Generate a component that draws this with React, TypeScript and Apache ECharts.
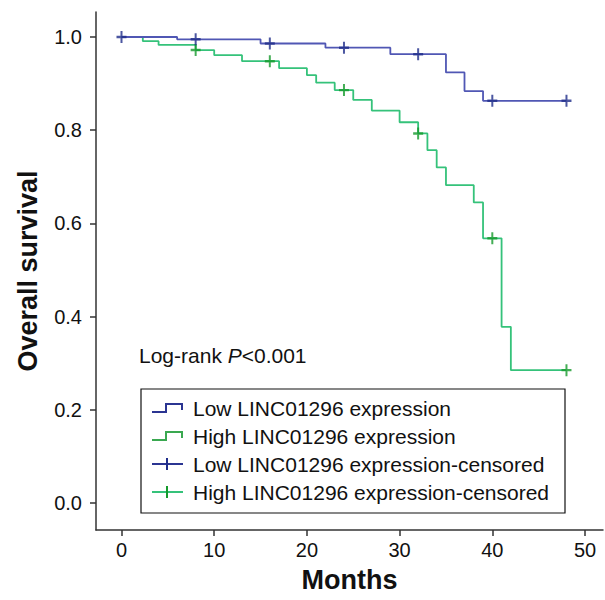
import React, { useEffect, useRef } from "react";
import * as echarts from "echarts";

// Kaplan-Meier step data: [month, survival]
const lowCurve: [number, number][] = [
  [0, 1.0], [6, 0.995], [15, 0.986], [22, 0.977], [29, 0.963],
  [35, 0.924], [37, 0.884], [39, 0.863], [48, 0.863],
];
const highCurve: [number, number][] = [
  [0, 1.0], [2.3, 0.991], [4, 0.983], [8, 0.972], [10, 0.961], [13, 0.948],
  [17, 0.933], [20, 0.918], [21, 0.902], [23, 0.886], [25, 0.865],
  [27, 0.842], [30, 0.817], [32, 0.793], [33, 0.757], [34, 0.72],
  [35, 0.682], [38, 0.645], [39, 0.568], [41, 0.378], [42, 0.285], [48, 0.285],
];
const lowCensored: [number, number][] = [
  [0, 1.0], [8, 0.995], [16, 0.986], [24, 0.977], [32, 0.963], [40, 0.863], [48, 0.863],
];
const highCensored: [number, number][] = [
  [8, 0.972], [16, 0.948], [24, 0.886], [32, 0.793], [40, 0.568], [48, 0.285],
];
const xTicks = [0, 10, 20, 30, 40, 50];
const yTicks = [0, 0.2, 0.4, 0.6, 0.8, 1.0];
const legendNames = [
  "Low LINC01296 expression",
  "High LINC01296 expression",
  "Low LINC01296 expression-censored",
  "High LINC01296 expression-censored",
];

const FONT = "Liberation Sans, Arial, sans-serif";
const BLUE = "#5057b4";
const GREEN = "#35c27a";
const BLUE_C = "#1f2d8a";
const GREEN_C = "#159a2c";
const CROSS = "path://M4,0 L6,0 L6,4 L10,4 L10,6 L6,6 L6,10 L4,10 L4,6 L0,6 L0,4 L4,4 Z";

export default function App() {
  const ref = useRef<HTMLDivElement>(null);
  useEffect(() => {
    if (!ref.current) return;
    const chart = echarts.init(ref.current, null, { renderer: "svg" });
    const lx = 152;
    const rowY = [408, 436, 464, 492];
    const legendGraphics: any[] = [
      {
        type: "rect",
        shape: { x: 141, y: 389, width: 424, height: 124 },
        style: { fill: "#fff", stroke: "#111", lineWidth: 1.2 },
        z: 10,
      },
    ];
    const iconColors = ["#2b3592", "#3aa850"];
    [0, 1].forEach((i) => {
      const y = rowY[i];
      legendGraphics.push({
        type: "polyline",
        shape: {
          points: [
            [lx, y + 4], [lx + 14, y + 4], [lx + 14, y - 4], [lx + 30, y - 4], [lx + 30, y + 2],
          ],
        },
        style: { stroke: iconColors[i], lineWidth: 2, fill: "none" },
        z: 11,
      });
    });
    [2, 3].forEach((i) => {
      const y = rowY[i];
      legendGraphics.push({
        type: "line",
        shape: { x1: lx, y1: y, x2: lx + 31, y2: y },
        style: { stroke: i === 2 ? "#2b3592" : GREEN, lineWidth: 2 },
        z: 11,
      });
      legendGraphics.push({
        type: "line",
        shape: { x1: lx + 15, y1: y - 6, x2: lx + 15, y2: y + 6 },
        style: { stroke: i === 2 ? BLUE_C : GREEN_C, lineWidth: 2 },
        z: 11,
      });
    });
    legendNames.forEach((n, i) => {
      legendGraphics.push({
        type: "text",
        x: 193,
        y: rowY[i],
        style: {
          text: n,
          fontFamily: FONT,
          fontSize: 21,
          fill: "#111",
          verticalAlign: "middle",
        },
        z: 11,
      });
    });
    legendGraphics.push({
      type: "text",
      x: 139,
      y: 355,
      style: {
        text: "{a|Log-rank }{b|P}{a|<0.001}",
        rich: {
          a: { fontFamily: FONT, fontSize: 21, fill: "#111" },
          b: { fontFamily: FONT, fontSize: 21, fill: "#111", fontStyle: "italic" },
        },
        verticalAlign: "middle",
      },
      z: 11,
    });

    chart.setOption({
      animation: false,
      backgroundColor: "#fff",
      grid: { left: 96, right: 2, top: 12, bottom: 70, containLabel: false },
      xAxis: {
        type: "value",
        min: -2.75,
        max: 51.94,
        name: "Months",
        nameLocation: "middle",
        nameGap: 36,
        nameTextStyle: { fontFamily: FONT, fontSize: 27, fontWeight: "bold", color: "#111" },
        axisLine: { show: true, onZero: false, lineStyle: { color: "#333", width: 1.5 } },
        axisTick: { show: true, length: 6, customValues: xTicks, lineStyle: { color: "#333", width: 1.5 } },
        axisLabel: {
          customValues: xTicks,
          fontFamily: FONT,
          fontSize: 20,
          color: "#111",
          margin: 10,
        },
        splitLine: { show: false },
      },
      yAxis: {
        type: "value",
        min: -0.058,
        max: 1.0536,
        name: "Overall survival",
        nameLocation: "middle",
        nameRotate: 90,
        nameGap: 55,
        nameTextStyle: { fontFamily: FONT, fontSize: 27, fontWeight: "bold", color: "#111" },
        axisLine: { show: true, onZero: false, lineStyle: { color: "#333", width: 1.5 } },
        axisTick: { show: true, length: 6, customValues: yTicks, lineStyle: { color: "#333", width: 1.5 } },
        axisLabel: {
          customValues: yTicks,
          formatter: (v: number) => v.toFixed(1),
          fontFamily: FONT,
          fontSize: 20,
          color: "#111",
          margin: 14,
        },
        splitLine: { show: false },
      },
      graphic: legendGraphics,
      series: [
        {
          name: legendNames[0],
          type: "line",
          step: "end",
          data: lowCurve,
          symbol: "none",
          lineStyle: { color: BLUE, width: 1.8 },
          z: 3,
        },
        {
          name: legendNames[1],
          type: "line",
          step: "end",
          data: highCurve,
          symbol: "none",
          lineStyle: { color: GREEN, width: 1.8 },
          z: 2,
        },
        {
          name: legendNames[2],
          type: "scatter",
          data: lowCensored,
          symbol: CROSS,
          symbolSize: [10, 12],
          itemStyle: { color: BLUE_C },
          z: 5,
        },
        {
          name: legendNames[3],
          type: "scatter",
          data: highCensored,
          symbol: CROSS,
          symbolSize: [10, 12],
          itemStyle: { color: GREEN_C },
          z: 4,
        },
      ],
    });
    return () => chart.dispose();
  }, []);
  return (
    <div
      ref={ref}
      style={{ position: "fixed", left: 0, top: 0, width: 605, height: 600, background: "#fff" }}
    />
  );
}
